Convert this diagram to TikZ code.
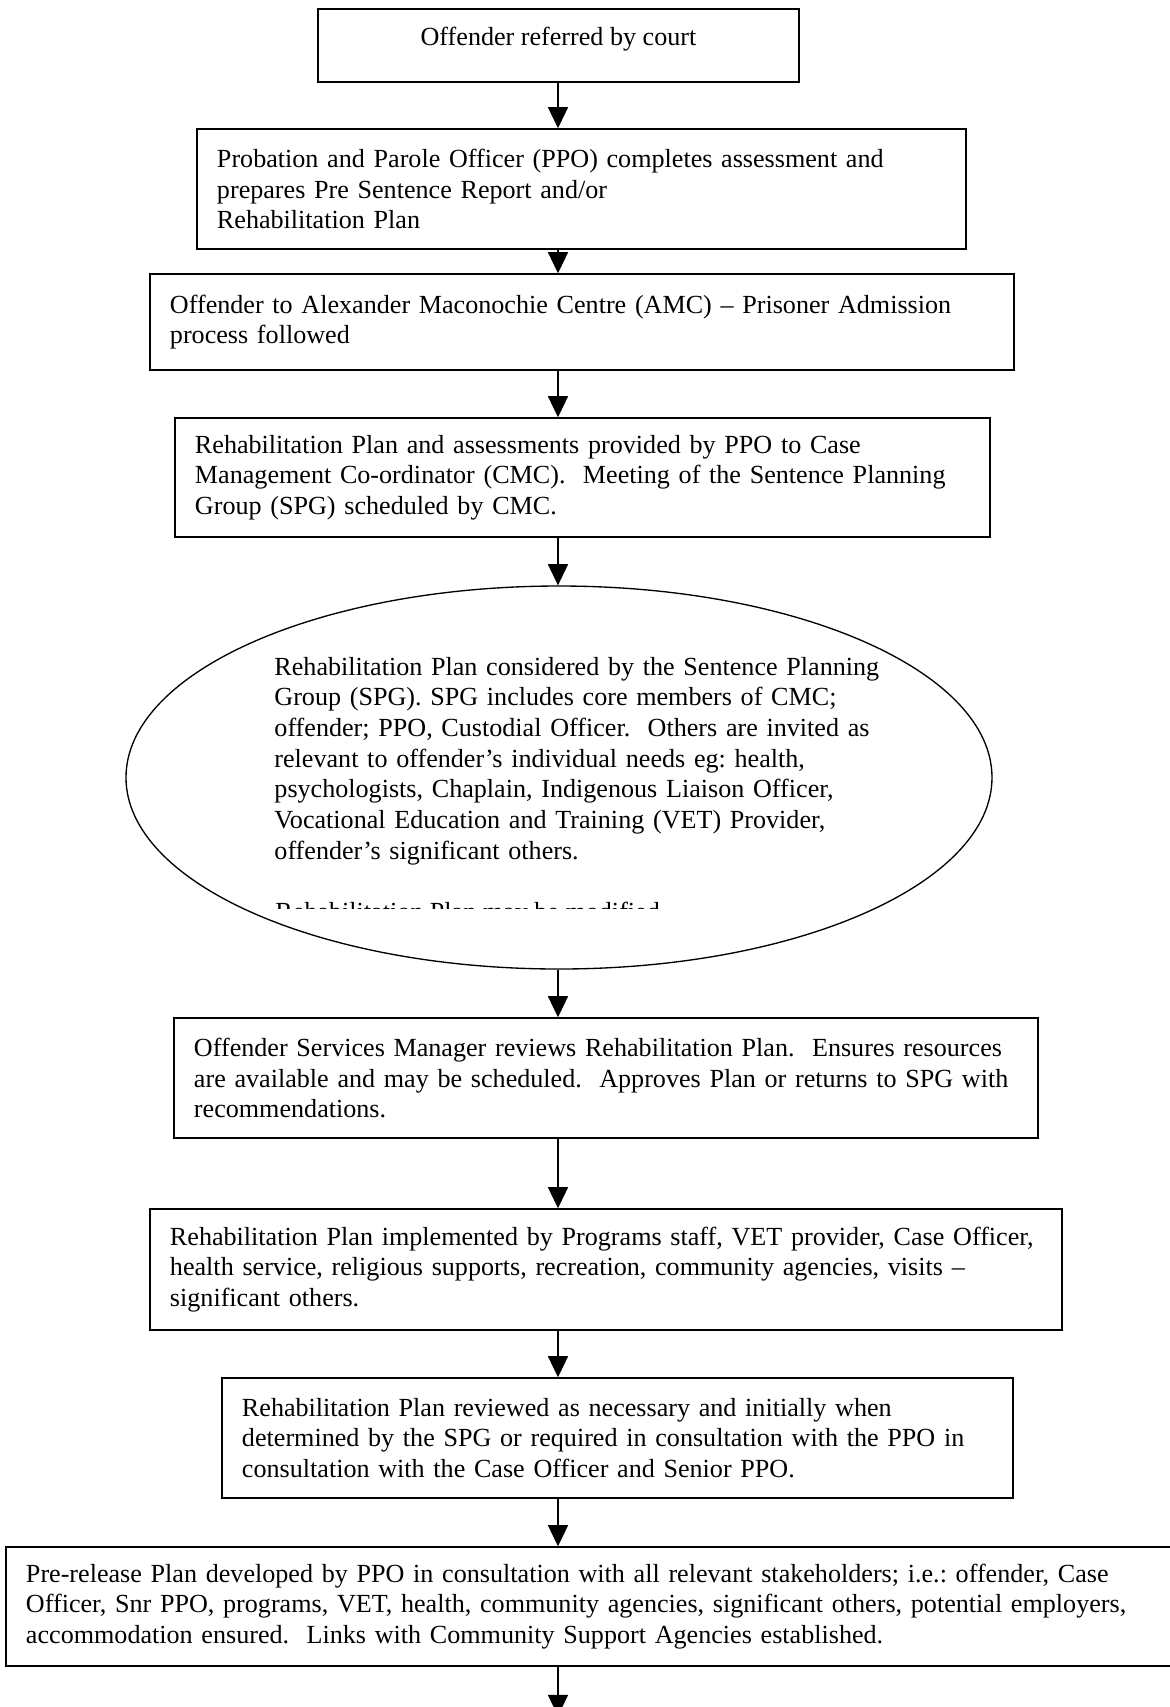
\documentclass[tikz,border=0pt]{standalone}
\usepackage{fontspec}
\setmainfont{Liberation Serif}
\usetikzlibrary{shapes.geometric,arrows.meta}

\newcommand{\stagefont}{\fontsize{11.75pt}{13.8pt}\selectfont\frenchspacing\hyphenpenalty=10000 \exhyphenpenalty=10000 \relax}

\tikzset{
  stage/.style={draw, line width=0.65pt, rectangle, inner xsep=9pt, inner ysep=2pt, align=left},
  flow/.style={line width=0.65pt, -{Triangle[length=9.5pt,width=9pt]}},
  plain/.style={inner sep=0pt, align=left}
}

\begin{document}
\begin{tikzpicture}[x=0.45pt,y=-0.45pt,font=\stagefont]
\useasboundingbox (0,0) rectangle (1170,1707);
\coordinate (spine) at (558,0);
\coordinate (exit) at (558,1716);
% boxes
\node[stage, align=center, minimum width=216.45pt, minimum height=32.85pt, text depth=8.4pt] (court) at (558.5,45.5) {Offender referred by court};
\node[stage, text width=328.05pt, minimum height=54pt] (ppo) at (581.5,189)
  {Probation and Parole Officer (PPO) completes assessment and\\
   prepares Pre Sentence Report and/or\\
   Rehabilitation Plan};
\node[stage, text width=370.8pt, minimum height=43.2pt] (amc) at (582,322)
  {Offender to Alexander Maconochie Centre (AMC) – Prisoner Admission\\
   process followed};
\node[stage, text width=348.75pt, minimum height=53.55pt] (cmc) at (582.5,477.5)
  {Rehabilitation Plan and assessments provided by PPO to Case\\
   Management Co-ordinator (CMC).\ \ Meeting of the Sentence Planning\\
   Group (SPG) scheduled by CMC.};
\node[draw, ellipse, line width=0.6pt, inner sep=0pt, minimum width=389.7pt, minimum height=172.35pt] (spg) at (559,777.5) {};
\node[plain, anchor=base west, text width=290pt] (spgtext) at (274,675)
  {Rehabilitation Plan considered by the Sentence Planning\\
   Group (SPG). SPG includes core members of CMC;\\
   offender; PPO, Custodial Officer.\ \ Others are invited as\\
   relevant to offender’s individual needs eg: health,\\
   psychologists, Chaplain, Indigenous Liaison Officer,\\
   Vocational Education and Training (VET) Provider,\\
   offender’s significant others.};
\begin{scope}
  \clip (250,880) rectangle (760,908);
  \node[plain, anchor=base west] (modline) at (275,920) {Rehabilitation Plan may be modified};
\end{scope}
\node[stage, text width=370.8pt, minimum height=54pt] (osm) at (606,1078)
  {Offender Services Manager reviews Rehabilitation Plan.\ \ Ensures resources\\
   are available and may be scheduled.\ \ Approves Plan or returns to SPG with\\
   recommendations.};
\node[stage, text width=392.4pt, minimum height=54.45pt] (impl) at (606,1269.5)
  {Rehabilitation Plan implemented by Programs staff, VET provider, Case Officer,\\
   health service, religious supports, recreation, community agencies, visits –\\
   significant others.};
\node[stage, text width=337.95pt, minimum height=54pt] (review) at (617.5,1438)
  {Rehabilitation Plan reviewed as necessary and initially when\\
   determined by the SPG or required in consultation with the PPO in\\
   consultation with the Case Officer and Senior PPO.};
\node[stage, text width=512.55pt, minimum height=53.55pt] (release) at (595.5,1606.5)
  {Pre-release Plan developed by PPO in consultation with all relevant stakeholders; i.e.: offender, Case\\
   Officer, Snr PPO, programs, VET, health, community agencies, significant others, potential employers,\\
   accommodation ensured.\ \ Links with Community Support Agencies established.};
% arrows
\draw[flow] (court.south -| spine) -- (ppo.north -| spine);
\draw[flow] (ppo.south -| spine) -- (amc.north -| spine);
\draw[flow] (amc.south -| spine) -- (cmc.north -| spine);
\draw[flow] (cmc.south -| spine) -- (spg.north -| spine);
\draw[flow] (spg.south -| spine) -- (osm.north -| spine);
\draw[flow] (osm.south -| spine) -- (impl.north -| spine);
\draw[flow] (impl.south -| spine) -- (review.north -| spine);
\draw[flow] (review.south -| spine) -- (release.north -| spine);
\draw[flow] (release.south -| spine) -- (exit);
\end{tikzpicture}
\end{document}
